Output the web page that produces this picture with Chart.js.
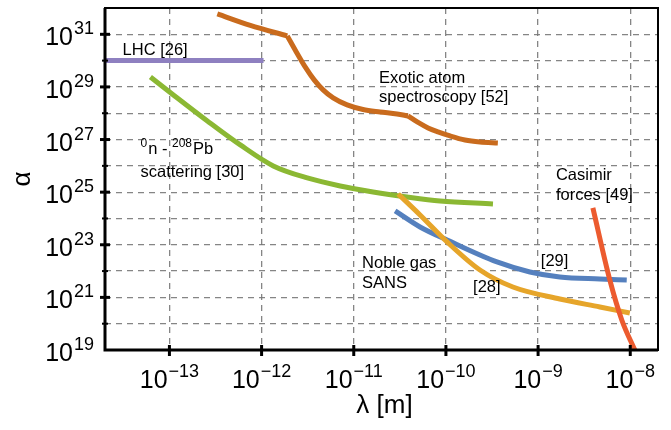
<!DOCTYPE html>
<html>
<head>
<meta charset="utf-8">
<script src="https://cdn.jsdelivr.net/npm/chart.js@4.4.0/dist/chart.umd.min.js"></script>
<style>
  html, body { margin: 0; padding: 0; background: #fff; }
  #wrap { width: 671px; height: 430px; }
</style>
</head>
<body>
<div id="wrap"><canvas id="chart"></canvas></div>
<script>
// values: lambda in m, alpha dimensionless
const lhcLambda = [2e-14, 1.05e-12];
const lhcAlpha = [1e30, 1e30];

const exoticLambda = [3.31e-13, 7.55e-13, 1.90e-12, 2.38e-12, 2.97e-12, 3.72e-12, 4.65e-12, 5.98e-12, 8.47e-12, 1.26e-11, 1.93e-11, 2.95e-11, 3.88e-11, 4.99e-11, 6.40e-11, 8.20e-11, 1.11e-10, 1.61e-10, 2.34e-10, 3.66e-10];
const exoticAlpha = [5.97e31, 2.18e31, 8.69e30, 2.14e30, 5.76e29, 1.85e29, 7.69e28, 3.82e28, 2.07e28, 1.39e28, 1.12e28, 9.40e27, 7.89e27, 4.47e27, 2.76e27, 1.95e27, 1.37e27, 9.66e26, 8.11e26, 7.43e26];
// the exotic-atom curve has two kinks (indices into the arrays above)
const exoticKinks = [2, 12];

const nPbLambda = [6.22e-14, 1.105e-13, 2.58e-13, 5.87e-13, 1.34e-12, 3.13e-12, 7.13e-12, 1.62e-11, 3.79e-11, 8.63e-11, 3.24e-10];
const nPbAlpha = [2.40e29, 4.97e28, 5.10e27, 6.24e26, 9.91e25, 3.47e25, 1.72e25, 1.02e25, 6.57e24, 4.63e24, 3.56e24];

const ref29Lambda = [2.81e-11, 5.24e-11, 1.03e-10, 3.58e-10, 8.15e-10, 1.72e-9, 4.68e-9, 9.16e-9];
const ref29Alpha = [1.93e24, 4.75e23, 1.52e23, 2.22e22, 9.25e21, 5.97e21, 5.01e21, 4.59e21];

const ref28Lambda = [3.03e-11, 5.24e-11, 1.03e-10, 2.34e-10, 5.33e-10, 1.72e-9, 4.68e-9, 9.89e-9];
const ref28Alpha = [8.55e24, 1.36e24, 1.28e23, 1.10e22, 2.48e21, 8.69e20, 4.31e20, 2.55e20];

const casimirLambda = [3.93e-9, 6.00e-9, 8.09e-9, 1.12e-8];
const casimirAlpha = [2.51e24, 4.59e21, 1.38e20, 1e19];

// tick labels (powers of ten)
const xTickExps = [-13, -12, -11, -10, -9, -8];
const yTickExps = [19, 21, 23, 25, 27, 29, 31];

const toPoints = (xs, ys) => xs.map((x, i) => ({ x: x, y: ys[i] }));

// text notes, anchored in data coordinates
const notes = [
  { x: 3.1e-14, y: 1.65e30, lines: ["LHC [26]"] },
  { x: 1.88e-11, y: 1.42e29, lines: ["Exotic atom", "spectroscopy [52]"], gap: 19 },
  { x: 4.85e-14, y: 2.83e26, lines: ["#npb", "scattering [30]"], gap: 23 },
  { x: 1.56e-9, y: 2.91e25, lines: ["Casimir", "forces [49]"], gap: 20 },
  { x: 1.23e-11, y: 1.31e22, lines: ["Noble gas", "SANS"], gap: 20 },
  { x: 1.97e-10, y: 1.60e21, lines: ["[28]"] },
  { x: 1.07e-9, y: 1.56e22, lines: ["[29]"] },
];

const FONT = "'Liberation Sans', Arial, sans-serif";

const line = (label, points, color, order) => ({
  label: label,
  data: points,
  showLine: true,
  borderColor: color,
  backgroundColor: color,
  borderWidth: 5,
  borderCapStyle: "butt",
  borderJoinStyle: "round",
  pointRadius: 0,
  cubicInterpolationMode: "monotone",
  order: order,
});

// split exotic curve at its kinks so each piece is smoothed on its own
const exoticPts = toPoints(exoticLambda, exoticAlpha);
const exoticParts = [];
[0, ...exoticKinks].forEach((start, i, arr) => {
  const end = i + 1 < arr.length ? arr[i + 1] : exoticPts.length - 1;
  exoticParts.push(exoticPts.slice(start, end + 1));
});

function decadeTicks(scale) {
  const lo = Math.ceil(Math.log10(scale.min) - 1e-9);
  const hi = Math.floor(Math.log10(scale.max) + 1e-9);
  const ticks = [];
  for (let e = lo; e <= hi; e++) ticks.push({ value: Math.pow(10, e) });
  scale.ticks = ticks;
}

function powText(ctx, exp, x, y, align) {
  // "10" with a raised exponent; y is the baseline of "10"
  ctx.font = "25px " + FONT;
  const baseW = ctx.measureText("10").width;
  ctx.font = "18px " + FONT;
  const expStr = String(exp).replace("-", "\u2212");
  const expW = ctx.measureText(expStr).width;
  let left = x;
  if (align === "right") left = x - baseW - expW - 1;
  if (align === "center") left = x - (baseW + expW + 1) / 2;
  ctx.textAlign = "left";
  ctx.textBaseline = "alphabetic";
  ctx.font = "25px " + FONT;
  ctx.fillText("10", left, y);
  ctx.font = "18px " + FONT;
  ctx.fillText(expStr, left + baseW + 1, y - 11);
}

const overlay = {
  id: "overlay",
  afterDraw(chart) {
    const ctx = chart.ctx;
    const { left, right, top, bottom } = chart.chartArea;
    const xs = chart.scales.x;
    const ys = chart.scales.y;
    ctx.save();
    ctx.setLineDash([]);
    ctx.strokeStyle = "#000";
    ctx.fillStyle = "#000";

    // frame
    ctx.lineWidth = 2;
    ctx.strokeRect(left, top, right - left, bottom - top);
    ctx.lineWidth = 3;
    ctx.beginPath();
    ctx.moveTo(left, top);
    ctx.lineTo(left, bottom);
    ctx.lineTo(right, bottom);
    ctx.stroke();

    // y ticks: labelled odd powers long, even powers short
    ys.ticks.forEach((t) => {
      const e = Math.round(Math.log10(t.value));
      const py = ys.getPixelForValue(t.value);
      if (py < top + 2 || py > bottom - 2) return;
      const major = yTickExps.includes(e);
      ctx.lineWidth = major ? 3 : 2;
      ctx.beginPath();
      ctx.moveTo(left - (major ? 5 : 3), py);
      ctx.lineTo(left + (major ? 5 : 3), py);
      ctx.stroke();
    });
    yTickExps.forEach((e) => {
      const py = ys.getPixelForValue(Math.pow(10, e));
      powText(ctx, e, left - 11, py + 11, "right");
    });

    // x ticks
    xTickExps.forEach((e) => {
      const px = xs.getPixelForValue(Math.pow(10, e));
      ctx.lineWidth = 3;
      ctx.beginPath();
      ctx.moveTo(px, bottom - 5);
      ctx.lineTo(px, bottom + 6);
      ctx.stroke();
      powText(ctx, e, px, bottom + 38, "center");
    });

    // axis titles
    ctx.font = "26px " + FONT;
    ctx.textAlign = "center";
    ctx.textBaseline = "middle";
    ctx.fillText("\u03bb [m]", (left + right) / 2 + 3, 406);
    ctx.save();
    ctx.translate(23, 179);
    ctx.rotate(-Math.PI / 2);
    ctx.fillText("\u03b1", 0, 0);
    ctx.restore();

    // notes
    ctx.textAlign = "left";
    ctx.textBaseline = "alphabetic";
    notes.forEach((n) => {
      const px = xs.getPixelForValue(n.x);
      const py = ys.getPixelForValue(n.y);
      n.lines.forEach((s, i) => {
        const by = py + i * (n.gap || 0);
        if (s === "#npb") {
          let cx = px;
          const parts = [["0", true], ["n - ", false], ["208", true], ["Pb", false]];
          parts.forEach(([txt, sup]) => {
            ctx.font = (sup ? "12px " : "16.5px ") + FONT;
            ctx.fillText(txt, cx, sup ? by - 7 : by);
            cx += ctx.measureText(txt).width + (sup ? 1 : 0);
          });
        } else {
          ctx.font = "16.5px " + FONT;
          ctx.fillText(s, px, by);
        }
      });
    });
    ctx.restore();
  },
};

const gridOpts = {
  display: true,
  drawTicks: false,
  color: "rgba(120,120,120,0.9)",
  lineWidth: 1.3,
};

new Chart(document.getElementById("chart").getContext("2d"), {
  type: "scatter",
  data: {
    datasets: [
      ...exoticParts.map((p) => line("Exotic atom spectroscopy [52]", p, "#c96b1d", 6)),
      line("LHC [26]", toPoints(lhcLambda, lhcAlpha), "#8e80c0", 5),
      line("0n-208Pb scattering [30]", toPoints(nPbLambda, nPbAlpha), "#8bb833", 4),
      line("[29]", toPoints(ref29Lambda, ref29Alpha), "#5580be", 3),
      line("[28]", toPoints(ref28Lambda, ref28Alpha), "#e6a52a", 2),
      line("Casimir forces [49]", toPoints(casimirLambda, casimirAlpha), "#ec5b2f", 1),
    ],
  },
  options: {
    responsive: true,
    maintainAspectRatio: false,
    animation: false,
    layout: { padding: { left: 105, right: 13, top: 8, bottom: 80 } },
    plugins: { legend: { display: false }, tooltip: { enabled: false } },
    scales: {
      x: {
        type: "logarithmic",
        min: 2e-14,
        max: 2e-8,
        afterBuildTicks: decadeTicks,
        ticks: { display: false },
        grid: gridOpts,
        border: { display: false, dash: [6, 5] },
      },
      y: {
        type: "logarithmic",
        min: 1e19,
        max: 1e32,
        afterBuildTicks: decadeTicks,
        ticks: { display: false },
        grid: gridOpts,
        border: { display: false, dash: [6, 5] },
      },
    },
  },
  plugins: [overlay],
});
</script>
</body>
</html>
